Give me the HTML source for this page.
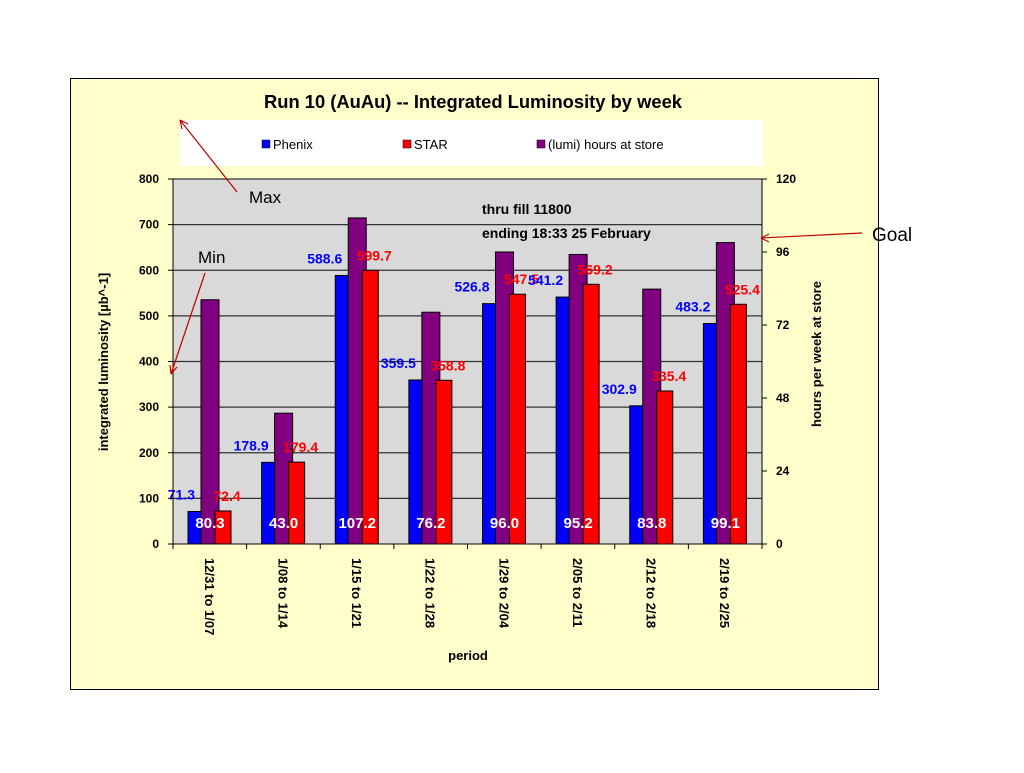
<!DOCTYPE html>
<html><head><meta charset="utf-8"><style>
body{margin:0;background:#fff;width:1024px;height:768px;overflow:hidden;font-family:"Liberation Sans",Arial,sans-serif}
</style></head><body>
<svg id="c" width="1024" height="768" xmlns="http://www.w3.org/2000/svg" font-family="Liberation Sans, Arial, sans-serif">
<rect x="70.5" y="78.5" width="808" height="611" fill="#ffffcc" stroke="#000" stroke-width="1"/>
<text x="473" y="108" text-anchor="middle" font-size="18" font-weight="bold" textLength="418" lengthAdjust="spacingAndGlyphs">Run 10 (AuAu) -- Integrated Luminosity by week</text>
<g>
<rect x="180" y="120" width="583" height="46" fill="#fff"/>
<rect x="262" y="140" width="8" height="8" fill="#0000ff" stroke="#000" stroke-width="0.5"/>
<text x="273" y="149" font-size="13">Phenix</text>
<rect x="403" y="140" width="8" height="8" fill="#ff0000" stroke="#000" stroke-width="0.5"/>
<text x="414" y="149" font-size="13">STAR</text>
<rect x="537" y="140" width="8" height="8" fill="#800080" stroke="#000" stroke-width="0.5"/>
<text x="548" y="149" font-size="13">(lumi) hours at store</text>
</g>
<rect x="173" y="179" width="589" height="365" fill="#d9d9d9"/>
<g id="grid"></g><g id="bars"></g><g id="labels"></g><g id="axes"></g>
<text x="482" y="214" font-size="14" font-weight="bold">thru fill 11800</text>
<text x="482" y="238" font-size="14" font-weight="bold">ending 18:33 25 February</text>
<text x="249" y="203" font-size="17">Max</text>
<line x1="237" y1="192" x2="180" y2="120" stroke="#c00000" stroke-width="1.2"/>
<path d="M180 120 l2 9 M180 120 l8 4" stroke="#c00000" fill="none" stroke-width="1.2"/>
<text x="198" y="263" font-size="17">Min</text>
<line x1="205" y1="273" x2="171" y2="374" stroke="#c00000" stroke-width="1.2"/>
<path d="M171 374 l-1 -9 M171 374 l6 -7" stroke="#c00000" fill="none" stroke-width="1.2"/>
<text x="872" y="241" font-size="19">Goal</text>
<line x1="862" y1="233" x2="761" y2="238" stroke="#c00000" stroke-width="1.2"/>
<path d="M761 238 l8 -4 M761 238 l8 4" stroke="#c00000" fill="none" stroke-width="1.2"/>
<text transform="translate(108,362) rotate(-90)" text-anchor="middle" font-size="13" font-weight="bold">integrated luminosity  [µb^-1]</text>
<text transform="translate(821,354) rotate(-90)" text-anchor="middle" font-size="13" font-weight="bold">hours per week at store</text>
<text x="468" y="660" text-anchor="middle" font-size="13" font-weight="bold">period</text>
</svg>
<script>
const categories=["12/31 to 1/07","1/08 to 1/14","1/15 to 1/21","1/22 to 1/28","1/29 to 2/04","2/05 to 2/11","2/12 to 2/18","2/19 to 2/25"];
const phenix=[71.3,178.9,588.6,359.5,526.8,541.2,302.9,483.2];
const star=[72.4,179.4,599.7,358.8,547.5,569.2,335.4,525.4];
const hours=[80.3,43.0,107.2,76.2,96.0,95.2,83.8,99.1];
const leftTicks=[0,100,200,300,400,500,600,700,800];
const rightTicks=[0,24,48,72,96,120];
const NS="http://www.w3.org/2000/svg";
const X0=173,X1=762,Y0=544,Y1=179;
const yL=v=>Y0-(v/800)*(Y0-Y1);
const yR=v=>Y0-(v/120)*(Y0-Y1);
const cw=(X1-X0)/categories.length;
const cx=i=>X0+i*cw;
function mk(tag,attrs,parent,txt){const e=document.createElementNS(NS,tag);for(const k in attrs)e.setAttribute(k,attrs[k]);if(txt!==undefined)e.textContent=txt;document.getElementById(parent).appendChild(e);return e;}
leftTicks.forEach(t=>{
 if(t>0){const g=mk('line',{x1:X0,x2:X1,y1:yL(t),y2:yL(t),stroke:'#333','stroke-width':1.3},'grid');
 
 }
 const l=mk('text',{x:X0-14,y:yL(t)+4,'text-anchor':'end','font-size':12,'font-weight':'bold'},'axes',t);
 
 
 mk('line',{x1:X0-5,x2:X0,y1:yL(t),y2:yL(t),stroke:'#000'},'axes');
});
rightTicks.forEach(t=>{
 const l=mk('text',{x:X1+14,y:yR(t)+4,'font-size':12,'font-weight':'bold'},'axes',t);
 
 
 mk('line',{x1:X1,x2:X1+5,y1:yR(t),y2:yR(t),stroke:'#000'},'axes');
});
mk('line',{x1:X0,x2:X0,y1:Y1,y2:Y0,stroke:'#000'},'axes');
mk('line',{x1:X1,x2:X1,y1:Y1,y2:Y0,stroke:'#000'},'axes');
mk('line',{x1:X0,x2:X1,y1:Y0,y2:Y0,stroke:'#000'},'axes');
const bw=17;
categories.forEach((c,i)=>{
 const s=cx(i);
 mk('line',{x1:s,x2:s,y1:Y0,y2:Y0+5,stroke:'#000'},'axes');
 const b=mk('rect',{x:s+15,y:yL(phenix[i]),width:bw,height:Y0-yL(phenix[i]),fill:'#0000ff',stroke:'#000','stroke-width':1},'bars');
 
 
 const h=mk('rect',{x:s+28,y:yR(hours[i]),width:bw+1,height:Y0-yR(hours[i]),fill:'#800080',stroke:'#000','stroke-width':1},'bars');
 
 
 const r=mk('rect',{x:s+42,y:yL(star[i]),width:bw-1,height:Y0-yL(star[i]),fill:'#ff0000',stroke:'#000','stroke-width':1},'bars');
 
 
 const pl=mk('text',{x:s+22,y:yL(phenix[i])-12,'text-anchor':'end','font-size':14,'font-weight':'bold',fill:'#0000ff'},'labels',phenix[i].toFixed(1));
 
 
 const sl=mk('text',{x:s+54,y:yL(star[i])-10,'text-anchor':'middle','font-size':14,'font-weight':'bold',fill:'#ff0000'},'labels',star[i].toFixed(1));
 
 
 const hl=mk('text',{x:s+37,y:528,'text-anchor':'middle','font-size':15,'font-weight':'bold',fill:'#fff'},'labels',hours[i].toFixed(1));
 
 
 const cl=mk('text',{transform:`translate(${s+cw/2-5},558) rotate(90)`,'font-size':13,'font-weight':'bold'},'labels',c);
 
 
});
mk('line',{x1:X1,x2:X1,y1:Y0,y2:Y0+5,stroke:'#000'},'axes');
</script>
</body></html>
